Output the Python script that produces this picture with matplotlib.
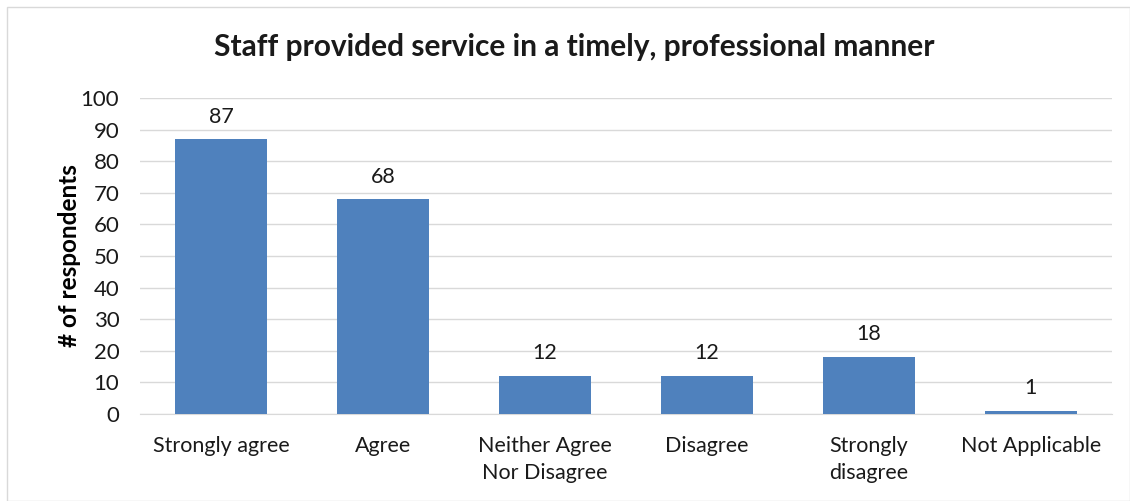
import matplotlib.pyplot as plt
from matplotlib.patches import Rectangle

categories = ["Strongly agree", "Agree", "Neither Agree\nNor Disagree",
              "Disagree", "Strongly\ndisagree", "Not Applicable"]
counts = [87, 68, 12, 12, 18, 1]
yticks = [0, 10, 20, 30, 40, 50, 60, 70, 80, 90, 100]

plt.rcParams['font.family'] = ['Lato', 'DejaVu Sans']

fig = plt.figure(figsize=(11.3, 5.01), dpi=100)
ax = fig.add_axes([0.124, 0.174, 0.86, 0.630])

x = range(len(categories))
bars = ax.bar(x, counts, width=0.57, color="#4f81bd", zorder=3)
for xi, v in zip(x, counts):
    ax.text(xi, v + 4, str(v), ha="center", va="bottom", fontsize=15.5, color="#1a1a1a")

ax.set_xlim(-0.5, len(categories) - 0.5)
ax.set_ylim(0, 100)
ax.set_yticks(yticks)
ax.set_xticks(list(x))
ax.set_xticklabels(categories, fontsize=15.5, color="#1a1a1a", va="top", linespacing=1.45)
ax.tick_params(axis="y", labelsize=16, labelcolor="#1a1a1a", length=0, pad=15)
ax.tick_params(axis="x", length=0, pad=16)
ax.grid(axis="y", color="#d9d9d9", linewidth=1, zorder=0)
for s in ["top", "right", "left"]:
    ax.spines[s].set_visible(False)
ax.spines["bottom"].set_color("#d9d9d9")

ax.set_ylabel("# of respondents", fontsize=17.5, fontweight="bold", labelpad=0)
fig.text(0.508, 0.906, "Staff provided service in a timely, professional manner",
         ha="center", va="center", fontsize=21.5, fontweight="bold", color="#1a1a1a")

fig.patches.append(Rectangle((0.006, 0.0), 0.994, 0.986, transform=fig.transFigure,
                             fill=False, edgecolor="#d9d9d9", linewidth=1))

fig.savefig("out.png", dpi=100)
